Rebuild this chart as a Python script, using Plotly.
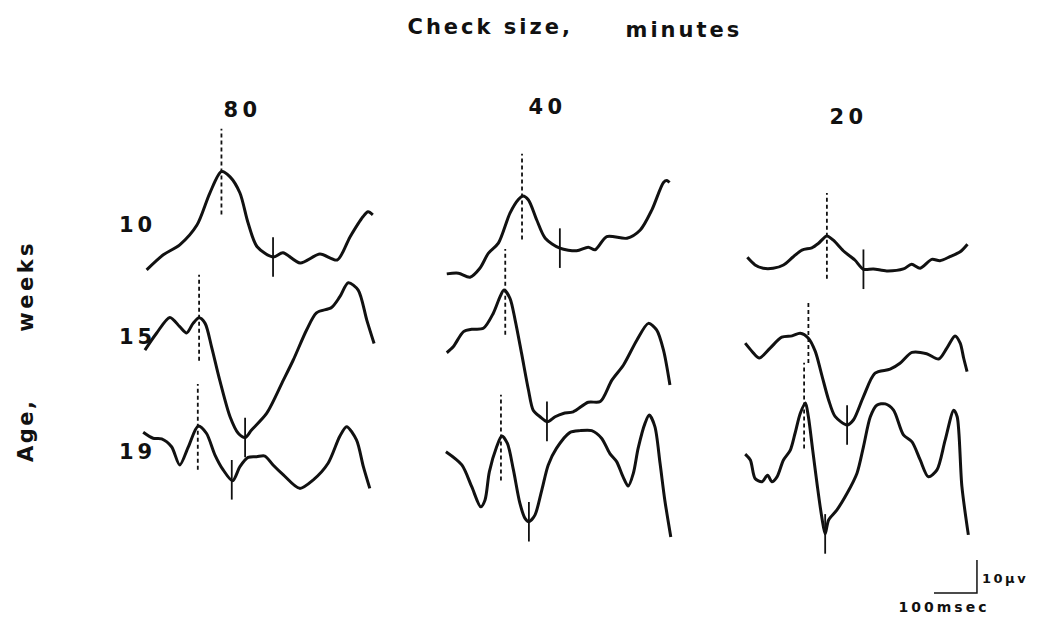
import json
import numpy as np
import plotly.graph_objects as go

W, H = 1039, 624
MS_PER_PX = 100 / 43      # horizontal calibration: 100 msec bar
UV_PER_PX = 10 / 33       # vertical calibration: 10 µV bar

check_sizes = ["80", "40", "20"]
ages = ["10", "15", "19"]

# --- waveforms: latency (msec) and amplitude (µV) relative to sweep start ---
t_80_10 = [0, 38, 77, 117, 147, 174, 194, 217, 236, 257, 294, 317, 357, 403, 443, 473, 503, 515, 526]
v_80_10 = [0, 4.5, 7.6, 13.6, 23.3, 29.8, 28.2, 23.3, 14.2, 7.0, 3.9, 5.2, 2.1, 4.8, 3.0, 10.0, 16.1, 17.6, 16.7]

t_80_15 = [0, 27, 58, 81, 97, 112, 126, 140, 155, 174, 198, 217, 233, 248, 283, 322, 345, 376, 399, 434, 453, 473, 496, 516, 533]
v_80_15 = [0, 5.1, 9.9, 7.1, 5.2, 8.1, 9.8, 8.1, 1.0, -9.1, -20.2, -25.2, -26.5, -24.2, -19.2, -9.1, -3.0, 6.1, 11.3, 12.9, 16.1, 20.4, 18.2, 9.1, 2.0]

t_80_19 = [0, 23, 43, 66, 85, 105, 128, 147, 167, 186, 208, 225, 244, 264, 283, 302, 326, 364, 395, 430, 457, 473, 496, 512, 527]
v_80_19 = [0, -1.8, -2.0, -4.4, -9.9, -4.4, 1.9, -0.3, -6.9, -11.4, -14.7, -10.4, -7.6, -7.4, -7.2, -9.9, -12.9, -17.0, -14.5, -9.4, -1.3, 1.7, -2.3, -10.4, -17.0]

t_40_10 = [0, 27, 54, 77, 97, 120, 147, 167, 177, 190, 209, 229, 263, 302, 329, 345, 372, 419, 450, 477, 504, 512, 518]
v_40_10 = [0, 0.2, -1.0, 1.7, 6.3, 9.3, 18.4, 22.6, 23.6, 22.4, 16.4, 10.8, 7.8, 7.0, 8.1, 7.3, 11.3, 10.8, 13.3, 19.4, 27.7, 28.3, 27.7]

t_40_15 = [0, 15, 39, 58, 85, 108, 124, 133, 147, 159, 174, 190, 201, 217, 234, 252, 271, 294, 329, 357, 384, 411, 442, 469, 488, 504, 519]
v_40_15 = [0, 1.8, 6.4, 7.1, 7.4, 11.9, 17.0, 19.0, 16.5, 9.9, -0.2, -11.3, -17.4, -19.4, -20.9, -19.4, -18.4, -17.9, -15.0, -14.8, -8.3, -3.7, 3.8, 8.9, 6.9, 0.8, -9.8]

t_40_19 = [0, 37, 60, 81, 91, 101, 118, 130, 143, 157, 172, 184, 193, 207, 223, 238, 257, 288, 312, 339, 362, 381, 397, 412, 424, 436, 447, 463, 473, 486, 498, 509, 523]
v_40_19 = [0, -4.0, -10.6, -16.7, -14.6, -6.1, 1.5, 4.8, 2.5, -5.5, -15.6, -20.2, -21.2, -19.2, -11.6, -4.0, 1.0, 5.8, 6.4, 6.4, 4.1, -0.5, -3.0, -7.6, -10.4, -6.5, 1.0, 8.6, 11.1, 7.6, -3.5, -14.6, -25.8]

t_20_10 = [0, 18, 37, 60, 84, 107, 127, 150, 165, 185, 200, 223, 250, 270, 293, 324, 363, 382, 402, 429, 448, 471, 495, 512]
v_20_10 = [0, -2.3, -3.3, -3.3, -2.3, 0.2, 2.2, 2.9, 4.2, 6.5, 5.2, 2.0, -0.8, -3.6, -3.5, -4.1, -3.5, -2.1, -3.3, -0.6, -1.0, 0.2, 1.7, 4.0]

t_20_15 = [0, 16, 33, 58, 85, 109, 128, 147, 163, 178, 194, 209, 237, 252, 275, 302, 337, 360, 388, 422, 450, 469, 488, 500, 508, 516]
v_20_15 = [0, -2.5, -4.5, -1.5, 1.8, 2.2, 3.0, 1.5, -2.5, -9.6, -17.2, -22.2, -24.8, -23.2, -16.2, -9.1, -7.9, -6.1, -2.8, -3.2, -4.8, -1.5, 2.2, 0.0, -4.5, -8.6]

t_20_19 = [0, 12, 23, 39, 52, 62, 74, 89, 105, 116, 128, 140, 147, 157, 168, 178, 186, 194, 213, 237, 260, 275, 291, 306, 326, 345, 368, 388, 407, 426, 446, 465, 485, 493, 504, 519]
v_20_19 = [0, -1.8, -7.4, -8.4, -6.4, -8.4, -6.9, -1.8, 1.2, 6.3, 12.3, 15.5, 11.3, 1.2, -9.9, -19.0, -24.2, -20.0, -17.0, -11.9, -5.8, 2.2, 11.3, 14.8, 15.2, 13.3, 5.8, 3.7, -1.8, -6.9, -4.8, 4.2, 13.3, 11.3, -9.9, -24.5]

waves = {
    ("80", "10"): (t_80_10, v_80_10), ("80", "15"): (t_80_15, v_80_15), ("80", "19"): (t_80_19, v_80_19),
    ("40", "10"): (t_40_10, v_40_10), ("40", "15"): (t_40_15, v_40_15), ("40", "19"): (t_40_19, v_40_19),
    ("20", "10"): (t_20_10, v_20_10), ("20", "15"): (t_20_15, v_20_15), ("20", "19"): (t_20_19, v_20_19),
}

# positive peak (dashed) and following trough (solid) latencies, msec
peak_ms = {"80": [174, 126, 127], "40": [175, 136, 128], "20": [185, 147, 137]}
trough_ms = {"80": [294, 233, 206], "40": [263, 233, 193], "20": [270, 237, 186]}

# sweep origins on the sheet (msec, µV)
origin = {
    ("80", "10"): (341, 107.3), ("80", "15"): (337, 83.0), ("80", "19"): (333, 58.1),
    ("40", "10"): (1039, 106.1), ("40", "15"): (1039, 82.2), ("40", "19"): (1037, 52.2),
    ("20", "10"): (1738, 111.1), ("20", "15"): (1733, 85.1), ("20", "19"): (1733, 51.5),
}
dash_extent = {("20", "15"): (11.0, 7.5)}
DASH_UP, DASH_DOWN = 13.0, 13.0
TICK_HALF = 6.0

INK = "#111111"
fig = go.Figure()

for cs in check_sizes:
    for i, age in enumerate(ages):
        t, v = waves[(cs, age)]
        x0, y0 = origin[(cs, age)]
        t = np.asarray(t, float)
        v = np.asarray(v, float)
        fig.add_trace(go.Scatter(
            x=x0 + t, y=y0 + v, mode="lines",
            line=dict(color=INK, width=3, shape="spline", smoothing=0.8),
            hoverinfo="skip", showlegend=False))
        # dashed marker at the positive peak
        pk = peak_ms[cs][i]
        vp = np.interp(pk, t, v)
        up, down = dash_extent.get((cs, age), (DASH_UP, DASH_DOWN))
        fig.add_trace(go.Scatter(
            x=[x0 + pk, x0 + pk], y=[y0 + vp - down, y0 + vp + up], mode="lines",
            line=dict(color=INK, width=1.8, dash="4px,3px"),
            hoverinfo="skip", showlegend=False))
        # solid tick at the trough
        tr = trough_ms[cs][i]
        vt = np.interp(tr, t, v)
        fig.add_trace(go.Scatter(
            x=[x0 + tr, x0 + tr], y=[y0 + vt - TICK_HALF, y0 + vt + TICK_HALF], mode="lines",
            line=dict(color=INK, width=1.8),
            hoverinfo="skip", showlegend=False))

# calibration bar: 100 msec by 10 µV
bar_ms, bar_uv = 100, 10
bx, by = 2172, 9.4
fig.add_trace(go.Scatter(
    x=[bx, bx + bar_ms, bx + bar_ms], y=[by, by, by + bar_uv], mode="lines",
    line=dict(color=INK, width=1.5), hoverinfo="skip", showlegend=False))

FONT = "DejaVu Sans, Verdana, sans-serif"
letter_spacing = {}


def label(text, px, py, size, spacing, angle=0):
    letter_spacing[text] = spacing
    fig.add_annotation(
        text=f"<b>{text}</b>", x=px / W, y=1 - py / H, xref="paper", yref="paper",
        xanchor="center", yanchor="middle", showarrow=False, textangle=angle,
        font=dict(family=FONT, size=size, color=INK))


label("Check size,", 490, 27, 21, 3)
label("minutes", 684, 30, 21, 3)
label("80", 242, 110, 21, 4.5)
label("40", 547, 107, 21, 4.5)
label("20", 848, 117, 21, 4.5)
label("10", 137, 225, 21, 4)
label("15", 137, 337, 21, 4)
label("19", 137, 452, 21, 4)
label("weeks", 26, 286, 21, 3.5, angle=-90)
label("Age,", 26, 430, 21, 2.5, angle=-90)
label("10µv", 1005, 578, 13, 2.5)
label("100msec", 944, 607, 14, 3)

fig.update_layout(
    width=W, height=H, margin=dict(l=0, r=0, t=0, b=0),
    paper_bgcolor="white", plot_bgcolor="white",
    xaxis=dict(visible=False, range=[0, W * MS_PER_PX], fixedrange=True),
    yaxis=dict(visible=False, range=[0, H * UV_PER_PX], fixedrange=True),
)

spacing_js = (
    "var ls=" + json.dumps(letter_spacing) + ";"
    "document.querySelectorAll('.annotation-text').forEach(function(e){"
    "var s=e.textContent; if(ls[s]!==undefined){e.style.letterSpacing=ls[s]+'px';}});"
)
fig.write_html("out.html", post_script=spacing_js)
